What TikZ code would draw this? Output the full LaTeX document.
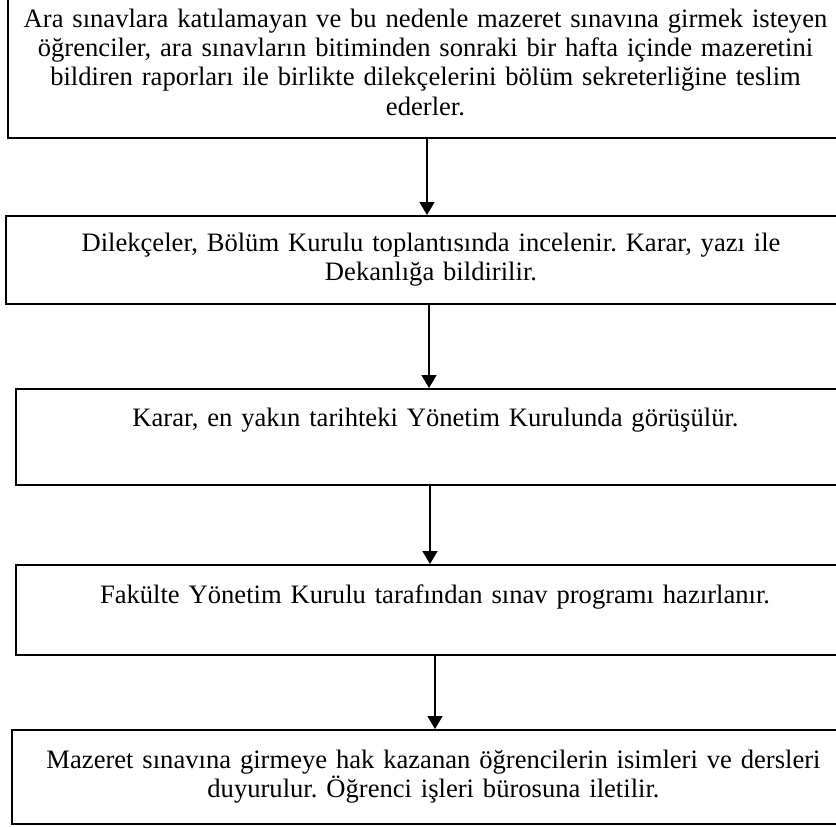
\documentclass[tikz,border=0pt]{standalone}
\usepackage{fontspec}
\setmainfont{Liberation Serif}
\usepackage{tikz}
\usetikzlibrary{arrows.meta, positioning, calc}

\begin{document}
\frenchspacing
\begin{tikzpicture}[
  x=0.5pt, y=-0.5pt,
  stepbox/.style={rectangle, draw, line width=1pt, inner sep=0pt, anchor=north west, align=center,
    font=\fontsize{13.3}{14.7}\selectfont},
  arr/.style={-{Triangle[width=7.5pt, length=6.5pt]}, line width=0.85pt},
]
  \useasboundingbox (0,0) rectangle (836,826);
  \clip (0,0) rectangle (836,826);

  % Steps
  \node[stepbox, text width=417.5pt, text height=17pt, text depth=55.5pt] (box1) at (7,-8)
    {Ara sınavlara katılamayan ve bu nedenle mazeret sınavına girmek isteyen\\
     öğrenciler, ara sınavların bitiminden sonraki bir hafta içinde mazeretini\\
     bildiren raporları ile birlikte dilekçelerini bölüm sekreterliğine teslim\\
     ederler.};
  \node[stepbox, text width=425pt, text height=17.5pt, text depth=26.5pt] (box2) at (5,215)
    {Dilekçeler, Bölüm Kurulu toplantısında incelenir. Karar, yazı ile\\
     Dekanlığa bildirilir.};
  \node[stepbox, text width=419.5pt, text height=18.5pt, text depth=29.5pt] (box3) at (15,388)
    {Karar, en yakın tarihteki Yönetim Kurulunda görüşülür.};
  \node[stepbox, text width=419pt, text height=19pt, text depth=26pt] (box4) at (15,564)
    {Fakülte Yönetim Kurulu tarafından sınav programı hazırlanır.};
  \node[stepbox, text width=421.5pt, text height=19pt, text depth=28pt] (box5) at (11,729)
    {Mazeret sınavına girmeye hak kazanan öğrencilerin isimleri ve dersleri\\
     duyurulur. Öğrenci işleri bürosuna iletilir.};

  % Arrows
  \foreach \a/\b/\x in {box1/box2/427, box2/box3/429, box3/box4/430, box4/box5/435} {
    \coordinate (ax) at (\x,0);
    \draw[arr] (ax |- \a.south) -- (ax |- \b.north);
  }

\end{tikzpicture}
\end{document}
